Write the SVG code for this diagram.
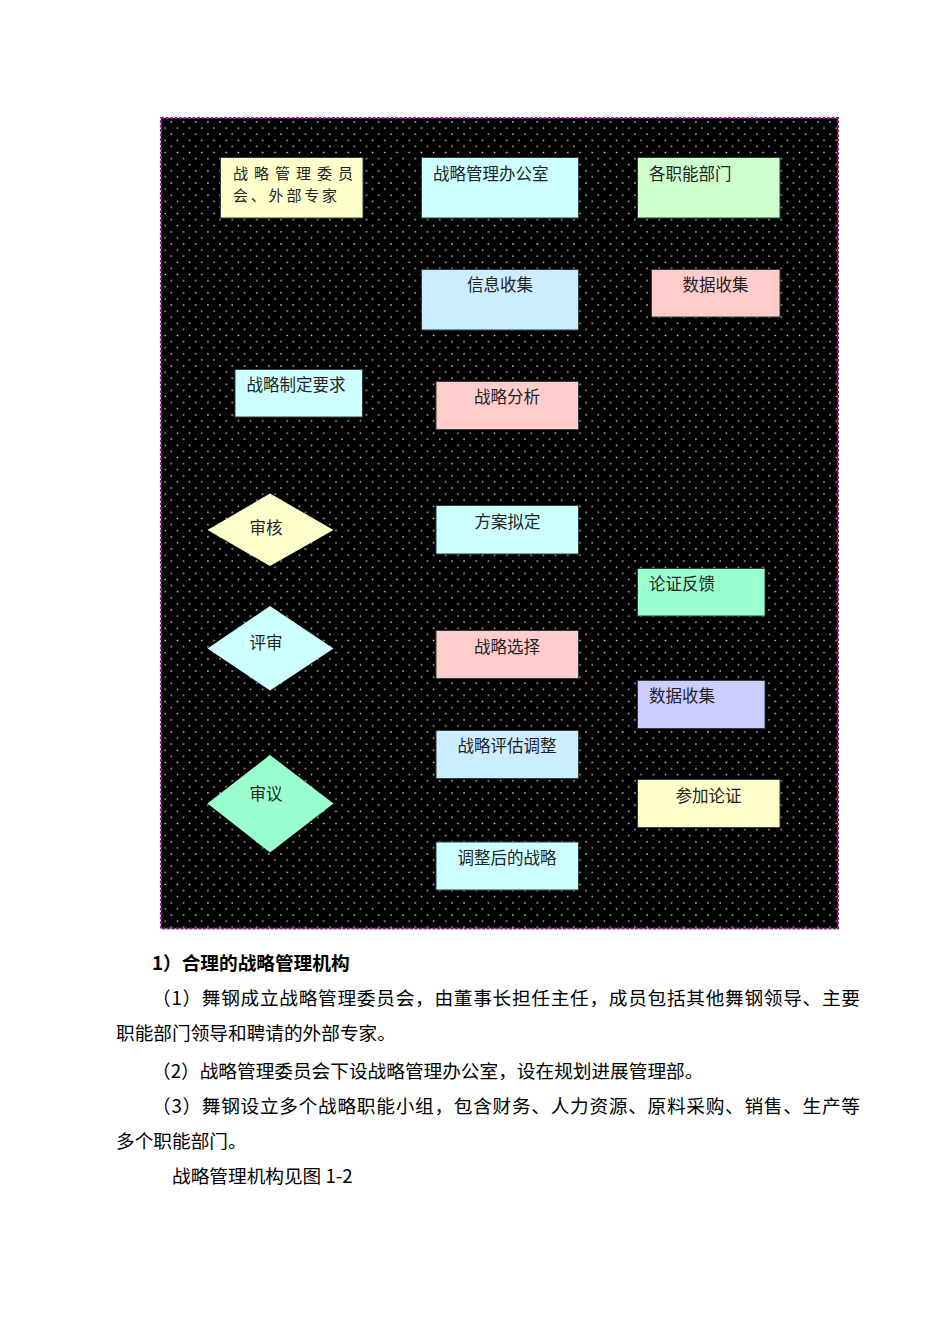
<svg xmlns="http://www.w3.org/2000/svg" width="950" height="1344" viewBox="0 0 950 1344">
<defs>
<pattern id="dots" patternUnits="userSpaceOnUse" x="171.3" y="122" width="12.2" height="12.2">
<rect x="0" y="0" width="12.2" height="12.2" fill="#000"/>
<rect x="-0.7" y="-0.7" width="1.4" height="1.4" fill="#e0e0e0"/>
<rect x="11.5" y="-0.7" width="1.4" height="1.4" fill="#e0e0e0"/>
<rect x="-0.7" y="11.5" width="1.4" height="1.4" fill="#e0e0e0"/>
<rect x="11.5" y="11.5" width="1.4" height="1.4" fill="#e0e0e0"/>
<rect x="5.4" y="5.4" width="1.4" height="1.4" fill="#e0e0e0"/>
</pattern>
</defs>
<style>
.box{stroke:#2f3f3f;stroke-width:1}
.dia{stroke:none}
.t{font-family:"Noto Sans CJK SC","Liberation Sans",sans-serif;font-size:16.5px;fill:#222}
.s{font-size:15px}
.c{text-anchor:middle}
.b{font-family:"Noto Sans CJK SC","Liberation Serif",sans-serif;font-size:18.67px;fill:#000}
.h{font-weight:bold}
</style>
<rect width="950" height="1344" fill="#fff"/>
<g id="frame">
<rect x="161" y="118" width="677" height="810.5" fill="url(#dots)" stroke="#8e1f8e" stroke-width="2.2" stroke-dasharray="3 1.5"/>
</g>
<g id="connectors"></g>
<g id="n1"><rect class="box" x="220.5" y="157.5" width="142.5" height="60.5" fill="#FFFFCC"/>
<text class="t s" x="233" y="178.5" textLength="120" lengthAdjust="spacing">战略管理委员</text>
<text class="t s" x="233" y="200.5" textLength="104" lengthAdjust="spacing">会、外部专家</text></g>
<g id="n2"><rect class="box" x="421.5" y="157.5" width="157" height="60.5" fill="#CCFFFF"/>
<text class="t" x="433" y="180">战略管理办公室</text></g>
<g id="n3"><rect class="box" x="637.5" y="157.5" width="142.5" height="60.5" fill="#CCFFCC"/>
<text class="t" x="649" y="180">各职能部门</text></g>
<g id="n4"><rect class="box" x="421.5" y="269.5" width="157" height="60.5" fill="#CCECFF"/>
<text class="t c" x="500" y="291">信息收集</text></g>
<g id="n5"><rect class="box" x="651.5" y="269.5" width="128.5" height="47.5" fill="#FFCCCC"/>
<text class="t c" x="715.5" y="291">数据收集</text></g>
<g id="n6"><rect class="box" x="235" y="369.5" width="127.5" height="47.5" fill="#CCFFFF"/>
<text class="t c" x="296" y="391">战略制定要求</text></g>
<g id="n7"><rect class="box" x="436" y="381.5" width="142.5" height="48" fill="#FFCCCC"/>
<text class="t c" x="507" y="403">战略分析</text></g>
<g id="n8"><polygon class="dia" points="270,493.5 333.5,530 270,566 207.5,530" fill="#FFFFCC"/>
<text class="t c" x="266" y="534">审核</text></g>
<g id="n9"><rect class="box" x="436" y="505.5" width="142.5" height="48.5" fill="#CCFFFF"/>
<text class="t c" x="507.5" y="528">方案拟定</text></g>
<g id="n10"><polygon class="dia" points="270,606 333.5,648.5 270,690.5 207.5,648.5" fill="#CCFFFF"/>
<text class="t c" x="266" y="649">评审</text></g>
<g id="n11"><rect class="box" x="436" y="630.5" width="142.5" height="48" fill="#FFCCCC"/>
<text class="t c" x="507" y="653">战略选择</text></g>
<g id="n12"><rect class="box" x="637.5" y="568.5" width="127.5" height="47.5" fill="#99FFCC"/>
<text class="t" x="649" y="590">论证反馈</text></g>
<g id="n13"><rect class="box" x="637.5" y="680.5" width="127.5" height="48" fill="#CCCCFF"/>
<text class="t" x="649" y="702">数据收集</text></g>
<g id="n14"><rect class="box" x="436" y="730.5" width="142.5" height="48" fill="#CCECFF"/>
<text class="t c" x="507" y="752">战略评估调整</text></g>
<g id="n15"><rect class="box" x="637.5" y="779.5" width="142.5" height="48" fill="#FFFFCC"/>
<text class="t c" x="708.5" y="802">参加论证</text></g>
<g id="n16"><rect class="box" x="436" y="842" width="142.5" height="48" fill="#CCFFFF"/>
<text class="t c" x="507" y="864">调整后的战略</text></g>
<g id="n17"><polygon class="dia" points="270,755 333.5,803.5 270,852.5 207.5,803.5" fill="#99FFCC"/>
<text class="t c" x="266" y="800">审议</text></g>
<g id="body">
<text class="b h" x="152" y="970">1）合理的战略管理机构</text>
<text class="b" x="152" y="1005" textLength="708" lengthAdjust="spacing">（1）舞钢成立战略管理委员会，由董事长担任主任，成员包括其他舞钢领导、主要</text>
<text class="b" x="116" y="1040">职能部门领导和聘请的外部专家。</text>
<text class="b" x="152" y="1078">（2）战略管理委员会下设战略管理办公室，设在规划进展管理部。</text>
<text class="b" x="152" y="1113" textLength="708" lengthAdjust="spacing">（3）舞钢设立多个战略职能小组，包含财务、人力资源、原料采购、销售、生产等</text>
<text class="b" x="116" y="1148">多个职能部门。</text>
<text class="b" x="172" y="1183">战略管理机构见图 1-2</text>
</g>
</svg>
